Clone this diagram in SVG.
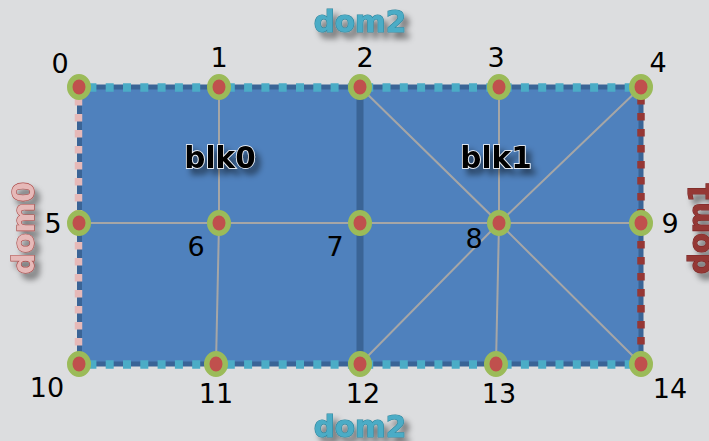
<svg xmlns="http://www.w3.org/2000/svg" width="709" height="441" viewBox="0 0 709 441">
<defs>
<filter id="sh" x="-30%" y="-30%" width="170%" height="170%"><feGaussianBlur in="SourceAlpha" stdDeviation="3"/><feOffset dx="5" dy="6"/><feComponentTransfer><feFuncA type="linear" slope="0.5"/></feComponentTransfer><feMerge><feMergeNode/><feMergeNode in="SourceGraphic"/></feMerge></filter>
</defs>
<style>
.b{fill:none;stroke:#3a6496;stroke-width:5}
.sep{fill:none;stroke:#3a6496;stroke-width:7}
.e{fill:none;stroke:#a6a6a6;stroke-width:2}
.d2{fill:none;stroke:#4bacc6;stroke-width:8.5;stroke-dasharray:8 9.3}
.d0{fill:none;stroke:#e6b9b8;stroke-width:7.5;stroke-dasharray:7.5 8.5}
.d1{fill:none;stroke:#953735;stroke-width:7.5;stroke-dasharray:7.5 8.5}
.n{fill:#c0504d;stroke:#9bbb59;stroke-width:5.500}
text{font-family:"DejaVu Sans",Verdana,sans-serif}
.l{font-size:27px;fill:#000;text-anchor:middle}
.s{filter:url(#sh)}
.t{font-size:29.5px;font-weight:bold;text-anchor:middle;paint-order:stroke}
.tb{fill:#000;stroke:#fff;stroke-width:1.5}
.t2{fill:#4bacc6;stroke:#31859c;stroke-width:1.2}
.t0{fill:#e6b9b8;stroke:#a94442;stroke-width:1.2}
.t1{fill:#953735;stroke:#7a2a28;stroke-width:1.2}
</style>
<rect width="709" height="441" fill="#dcdddf"/>
<rect x="79" y="87" width="562" height="277" fill="#4f81bd"/>
<g id="connectors">
<path class="e" d="M79 223H641M219 87V223L216 364M499 87V223L496 364M360 87L499 223L641 87M360 364L499 223L641 364"/>
<path class="sep" d="M360 87V364"/>
<path class="b" d="M79 87H641M79 364H641M79.500 87V364M641 87V364"/>
<path class="d2" d="M88.400 87.500H641M88.400 364.500H641"/>
<path class="d0" d="M78.500 98V364"/>
<path class="d1" d="M641 97V364"/>
</g>
<g id="node0"><ellipse class="n" cx="79" cy="87" rx="9.250" ry="10.250"/><text class="l" x="60" y="73">0</text></g>
<g id="node1"><ellipse class="n" cx="219" cy="87" rx="9.250" ry="10.250"/><text class="l" x="219" y="67">1</text></g>
<g id="node2"><ellipse class="n" cx="360" cy="87" rx="9.250" ry="10.250"/><text class="l" x="365" y="67">2</text></g>
<g id="node3"><ellipse class="n" cx="499" cy="87" rx="9.250" ry="10.250"/><text class="l" x="496" y="67">3</text></g>
<g id="node4"><ellipse class="n" cx="641" cy="87" rx="9.250" ry="10.250"/><text class="l" x="658" y="72">4</text></g>
<g id="node5"><ellipse class="n" cx="79" cy="223" rx="9.250" ry="10.250"/><text class="l" x="53" y="233">5</text></g>
<g id="node6"><ellipse class="n" cx="219" cy="223" rx="9.250" ry="10.250"/><text class="l" x="196" y="256">6</text></g>
<g id="node7"><ellipse class="n" cx="360" cy="223" rx="9.250" ry="10.250"/><text class="l" x="335" y="256">7</text></g>
<g id="node8"><ellipse class="n" cx="499" cy="223" rx="9.250" ry="10.250"/><text class="l" x="474" y="248">8</text></g>
<g id="node9"><ellipse class="n" cx="641" cy="223" rx="9.250" ry="10.250"/><text class="l" x="670" y="233">9</text></g>
<g id="node10"><ellipse class="n" cx="79" cy="364" rx="9.250" ry="10.250"/><text class="l" x="47" y="397">10</text></g>
<g id="node11"><ellipse class="n" cx="216" cy="364" rx="9.250" ry="10.250"/><text class="l" x="216" y="403">11</text></g>
<g id="node12"><ellipse class="n" cx="360" cy="364" rx="9.250" ry="10.250"/><text class="l" x="363" y="403">12</text></g>
<g id="node13"><ellipse class="n" cx="496" cy="364" rx="9.250" ry="10.250"/><text class="l" x="499" y="403">13</text></g>
<g id="node14"><ellipse class="n" cx="641" cy="364" rx="9.250" ry="10.250"/><text class="l" x="670" y="398">14</text></g>
<g id="labels">
<g class="s"><text class="t tb" x="220" y="168">blk0</text></g>
<g class="s"><text class="t tb" x="496" y="168">blk1</text></g>
<g class="s"><text class="t t2" x="360" y="32">dom2</text></g>
<g class="s"><text class="t t2" x="360" y="437">dom2</text></g>
<g class="s"><text class="t t0" transform="translate(33.500 228) rotate(-90)">dom0</text></g>
<g class="s"><text class="t t1" transform="translate(710 228) rotate(-90)">dom1</text></g>
</g>
</svg>
